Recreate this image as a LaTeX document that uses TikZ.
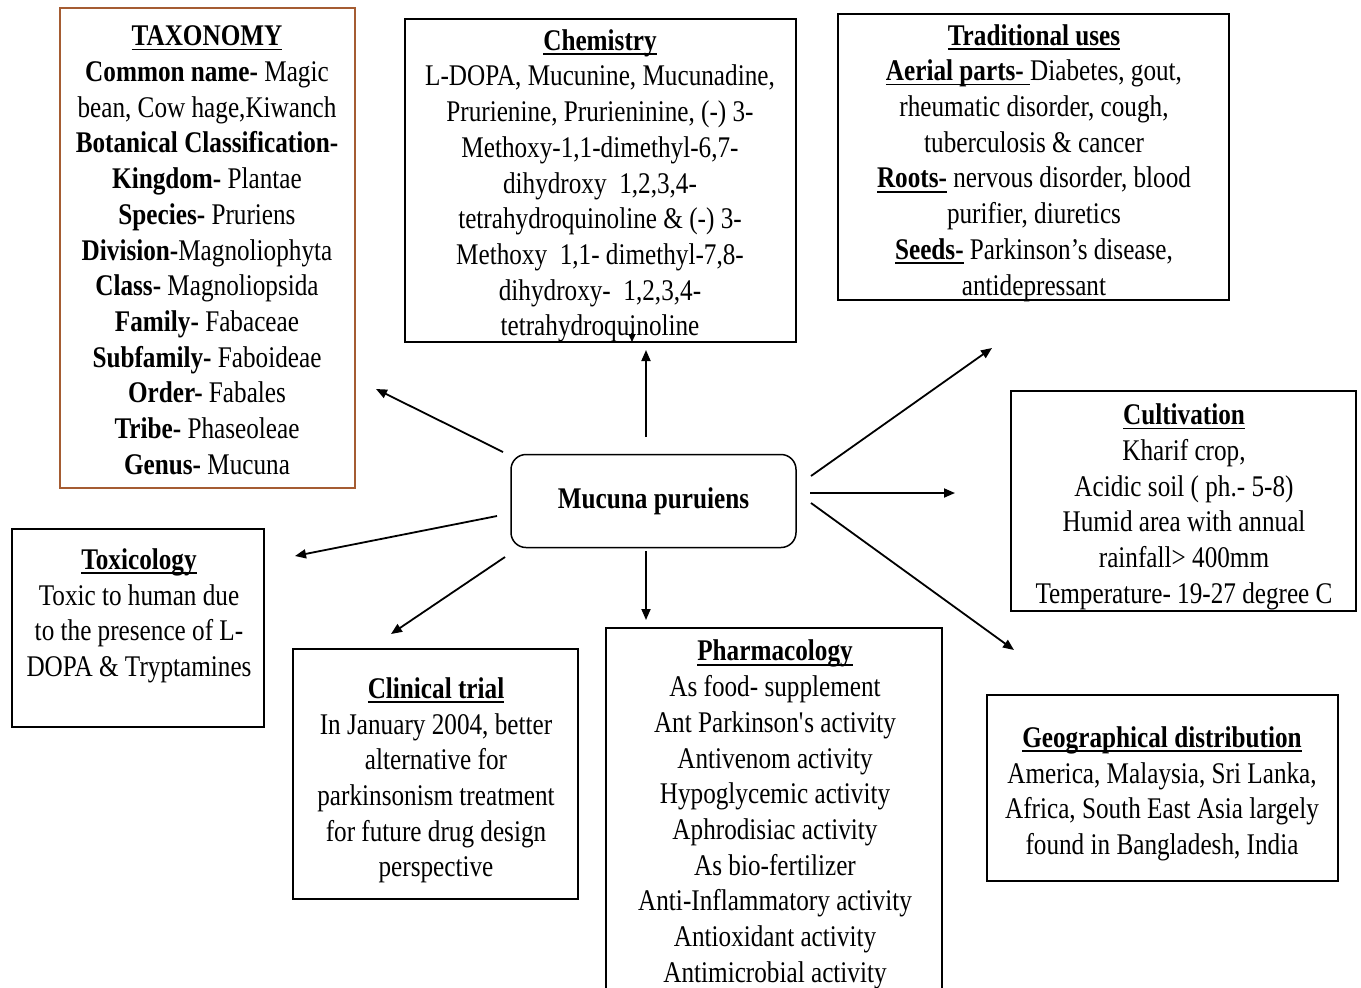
\documentclass[tikz,border=0pt]{standalone}
\usepackage{fontspec}
\setmainfont{Liberation Serif}[FakeStretch=0.84]
\usetikzlibrary{arrows.meta}
\definecolor{taxbrown}{RGB}{165,92,50}
\newcommand\ulx[1]{\setbox0\hbox{#1}\rlap{\rule[-2.3pt]{\wd0}{0.9pt}}\box0\relax}
\newcommand\ttl[1]{\ulx{\textbf{#1}}}
\begin{document}
\begin{tikzpicture}[x=0.5pt,y=-0.5pt,
  box/.style={draw,line width=0.75pt,rectangle,inner sep=0pt},
  txt/.style={align=center,inner sep=0pt,yshift=-1.25pt,font=\fontsize{15}{17.85}\selectfont,
    execute at begin node=\strut,execute at end node=\strut},
  conn/.style={line width=0.9pt,-{Triangle[length=5.5pt,width=4.5pt]}}]
\useasboundingbox (0,0) rectangle (1361,987);
% boxes
\node[box,draw=taxbrown,minimum width=147.5pt,minimum height=240pt] (tax) at (207.5,248) {};
\node[box,minimum width=195.5pt,minimum height=161.5pt] (chem) at (600.5,180.5) {};
\node[box,minimum width=195.5pt,minimum height=143pt] (trad) at (1033.5,157) {};
\node[box,minimum width=172.5pt,minimum height=110pt] (cult) at (1183.5,501) {};
\node[box,minimum width=175.5pt,minimum height=93pt] (geo) at (1162.5,788) {};
\node[box,minimum width=168pt,minimum height=183pt] (pharm) at (774,811) {};
\node[box,minimum width=142.5pt,minimum height=125pt] (clin) at (435.5,774) {};
\node[box,minimum width=126pt,minimum height=99pt] (tox) at (138,628) {};
\node[box,rounded corners=7.5pt,minimum width=142.5pt,minimum height=46.5pt,
  font=\fontsize{15}{17.85}\selectfont\bfseries] (mp) at (653.5,501) {Mucuna puruiens};
% texts
\node[txt] (taxT) at (207,253) {\ttl{TAXONOMY}\\
\textbf{Common name-} Magic\\
bean, Cow hage,Kiwanch\\
\textbf{Botanical Classification-}\\
\textbf{Kingdom-} Plantae\\
\textbf{Species-} Pruriens\\
\textbf{Division-}Magnoliophyta\\
\textbf{Class-} Magnoliopsida\\
\textbf{Family-} Fabaceae\\
\textbf{Subfamily-} Faboideae\\
\textbf{Order-} Fabales\\
\textbf{Tribe-} Phaseoleae\\
\textbf{Genus-} Mucuna};
\node[txt] (chemT) at (600,185.5) {\ttl{Chemistry}\\
L-DOPA, Mucunine, Mucunadine,\\
Prurienine, Prurieninine, (-) 3-\\
Methoxy-1,1-dimethyl-6,7-\\
dihydroxy \ 1,2,3,4-\\
tetrahydroquinoline \& (-) 3-\\
Methoxy \ 1,1- dimethyl-7,8-\\
dihydroxy- \ 1,2,3,4-\\
tetrahydroquinoline};
\node[txt] (tradT) at (1034,162.5) {\ttl{Traditional uses}\\
\ulx{\textbf{Aerial parts-\ }}Diabetes, gout,\\
rheumatic disorder, cough,\\
tuberculosis \& cancer\\
\ttl{Roots-} nervous disorder, blood\\
purifier, diuretics\\
\ttl{Seeds-} Parkinson’s disease,\\
antidepressant};
\node[txt] (cultT) at (1184,506.5) {\ttl{Cultivation}\\
Kharif crop,\\
Acidic soil ( ph.- 5-8)\\
Humid area with annual\\
rainfall> 400mm\\
Temperature- 19-27 degree C};
\node[txt] (geoT) at (1162,793.5) {\ttl{Geographical distribution}\\
America, Malaysia, Sri Lanka,\\
Africa, South East Asia largely\\
found in Bangladesh, India};
\node[txt] (pharmT) at (775,814) {\ttl{Pharmacology}\\
As food- supplement\\
Ant Parkinson\textquotesingle s activity\\
Antivenom activity\\
Hypoglycemic activity\\
Aphrodisiac activity\\
As bio-fertilizer\\
Anti-Inflammatory activity\\
Antioxidant activity\\
Antimicrobial activity};
\node[txt] (clinT) at (436,780) {\ttl{Clinical trial}\\
In January 2004, better\\
alternative for\\
parkinsonism treatment\\
for future drug design\\
perspective};
\node[txt] (toxT) at (139,615.5) {\ttl{Toxicology}\\
Toxic to human due\\
to the presence of L-\\
DOPA \& Tryptamines};
% arrow end points
\coordinate (s1) at (503,452); \coordinate (e1) at (376,389);
\coordinate (s2) at (646,437); \coordinate (e2) at (646,350);
\coordinate (s3) at (632,333); \coordinate (e3) at (632,342);
\coordinate (s4) at (811,476); \coordinate (e4) at (992,348);
\coordinate (s5) at (810,493); \coordinate (e5) at (955,493);
\coordinate (s6) at (811,503); \coordinate (e6) at (1014,650);
\coordinate (s7) at (646,551); \coordinate (e7) at (646,620);
\coordinate (s8) at (505,557); \coordinate (e8) at (391,634);
\coordinate (s9) at (497,516); \coordinate (e9) at (295,556);
\draw[conn] (s1) -- (e1);
\draw[conn] (s2) -- (e2);
\draw[line width=0.6pt,-{Triangle[length=4pt,width=3.5pt]}] (s3) -- (e3);
\draw[conn] (s4) -- (e4);
\draw[conn] (s5) -- (e5);
\draw[conn] (s6) -- (e6);
\draw[conn] (s7) -- (e7);
\draw[conn] (s8) -- (e8);
\draw[conn] (s9) -- (e9);
\end{tikzpicture}
\end{document}
